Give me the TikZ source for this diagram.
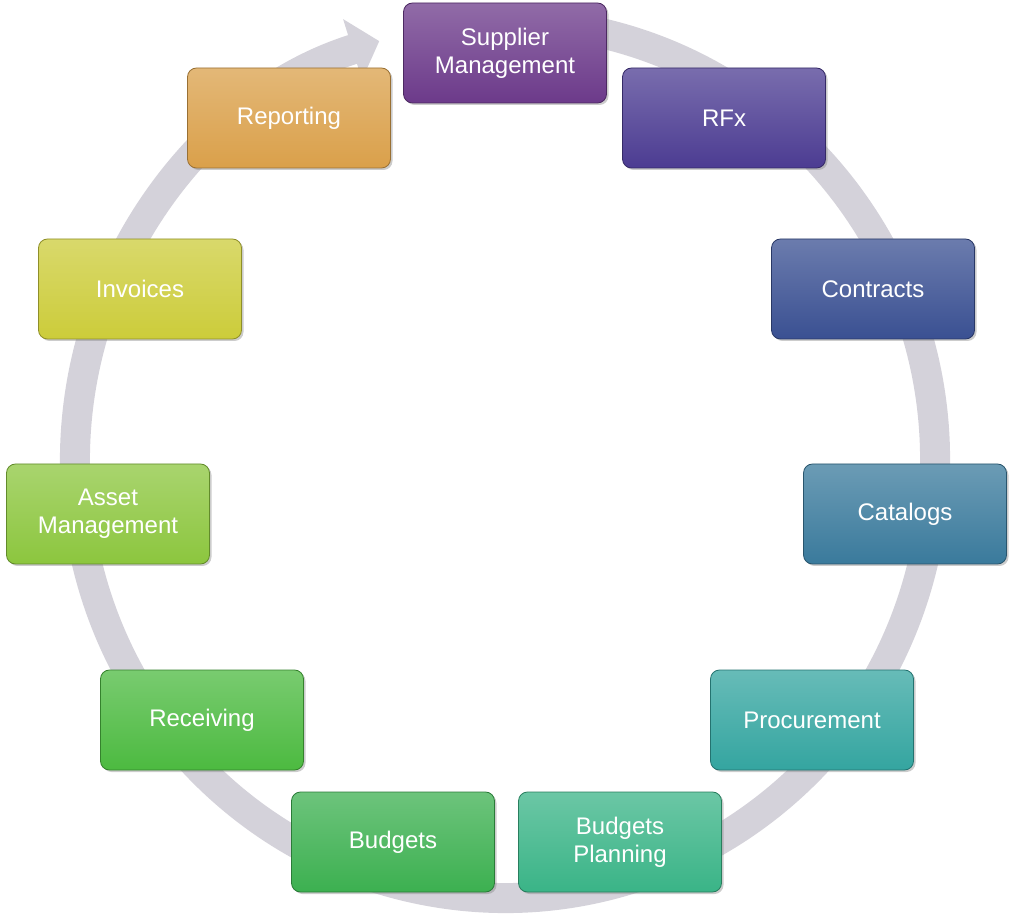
\documentclass[tikz,border=0pt]{standalone}
\usepackage{fontspec}
\setmainfont{Liberation Sans}
\usetikzlibrary{arrows.meta,shadows}
\definecolor{ringgray}{RGB}{212,210,218}
\definecolor{cSup}{RGB}{108,58,138}
\definecolor{cRfx}{RGB}{76,60,146}
\definecolor{cCon}{RGB}{58,80,146}
\definecolor{cCat}{RGB}{58,122,156}
\definecolor{cPro}{RGB}{52,165,160}
\definecolor{cBpl}{RGB}{58,180,135}
\definecolor{cBud}{RGB}{60,176,80}
\definecolor{cRec}{RGB}{76,186,64}
\definecolor{cAss}{RGB}{140,198,62}
\definecolor{cInv}{RGB}{204,204,58}
\definecolor{cRep}{RGB}{218,160,74}
\tikzset{
  step/.style={rectangle, rounded corners=9pt, minimum width=203pt, minimum height=100pt,
    top color=#1!75!white, bottom color=#1, draw=#1!70!black, line width=0.8pt,
    drop shadow={shadow xshift=2pt, shadow yshift=-2pt, opacity=0.4},
    text=white, font=\fontsize{24}{28}\selectfont, align=center}
}
\begin{document}
\begin{tikzpicture}[x=1pt,y=1pt]
\useasboundingbox (0,0) rectangle (1012,914);

%ring arrow
\draw [ringgray, line width=30pt, -{Triangle[length=28pt,width=62pt]}]
  (505,454) ++(80:430 and 438) arc [start angle=80, end angle=-253, x radius=430, y radius=438];

%steps
\node [step=cSup] (sup) at (505,861) {Supplier\\Management};
\node [step=cRfx] (rfx) at (724,796) {RFx};
\node [step=cCon] (con) at (873,625) {Contracts};
\node [step=cCat] (cat) at (905,400) {Catalogs};
\node [step=cPro] (pro) at (812,194) {Procurement};
\node [step=cBpl] (bpl) at (620,72) {Budgets\\Planning};
\node [step=cBud] (bud) at (393,72) {Budgets};
\node [step=cRec] (rec) at (202,194) {Receiving};
\node [step=cAss] (ass) at (108,400) {Asset\\Management};
\node [step=cInv] (inv) at (140,625) {Invoices};
\node [step=cRep] (rep) at (289,796) {Reporting};
\end{tikzpicture}
\end{document}
